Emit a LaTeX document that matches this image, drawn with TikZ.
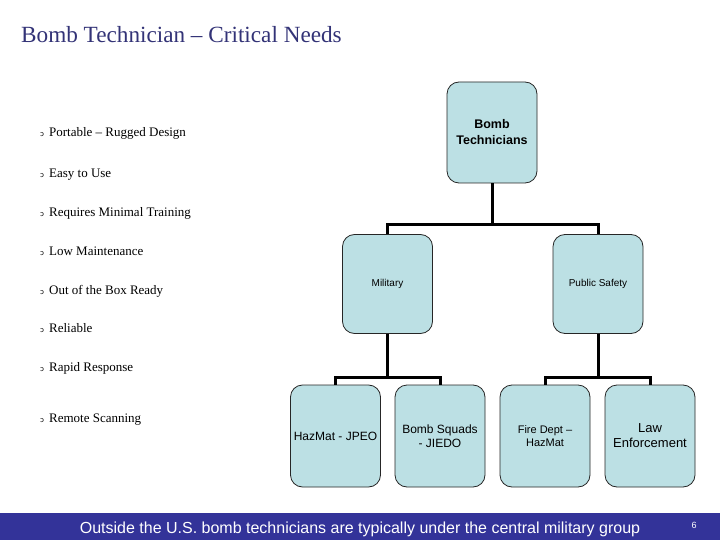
\documentclass[tikz,border=0pt]{standalone}
\usepackage{fontspec}
\setmainfont{Liberation Serif}
\newfontfamily\arialf{Liberation Sans}
\newfontfamily\dejav{DejaVu Sans}
\definecolor{titleblue}{HTML}{333377}
\definecolor{boxfill}{HTML}{BCE0E4}
\definecolor{barblue}{HTML}{333399}
\newcommand{\bul}{{\dejav\scalebox{0.55}{ɔ}}\hspace{5pt}}
\tikzset{
  orgbox/.style={draw=black!85, line width=0.8pt, fill=boxfill, rounded corners=12pt,
    minimum width=90pt, minimum height=101pt, align=center, font=\arialf, inner sep=2pt},
  conn/.style={line width=3pt, black},
  bullettxt/.style={anchor=base west, font=\fontsize{13}{15}\selectfont, inner sep=0pt}
}
\begin{document}
\begin{tikzpicture}[x=1pt,y=-1pt]
\useasboundingbox (0,0) rectangle (720,540);
\fill[white] (0,0) rectangle (720,540);
% title
\node[anchor=base west, text=titleblue, font=\fontsize{23.2}{27}\selectfont, inner sep=0pt] (title) at (21,43) {Bomb Technician – Critical Needs};
% bullets
\node[bullettxt] (b1) at (40,137) {\bul Portable – Rugged Design};
\node[bullettxt] (b2) at (40,178) {\bul Easy to Use};
\node[bullettxt] (b3) at (40,217) {\bul Requires Minimal Training};
\node[bullettxt] (b4) at (40,255) {\bul Low Maintenance};
\node[bullettxt] (b5) at (40,294) {\bul Out of the Box Ready};
\node[bullettxt] (b6) at (40,332) {\bul Reliable};
\node[bullettxt] (b7) at (40,371) {\bul Rapid Response};
\node[bullettxt] (b8) at (40,422) {\bul Remote Scanning};
% org chart
\node[orgbox, font=\arialf\bfseries\fontsize{12.5}{16}\selectfont] (top) at (492,132.5) {Bomb\\Technicians};
\node[orgbox, minimum height=99pt, font=\arialf\fontsize{10}{12}\selectfont] (mil) at (387.5,284) {\raisebox{2pt}{Military}};
\node[orgbox, minimum height=99pt, font=\arialf\fontsize{10}{12}\selectfont] (ps) at (598,284) {Public Safety};
\node[orgbox, minimum height=102pt, font=\arialf\fontsize{12}{14}\selectfont] (c1) at (335.5,436) {HazMat - JPEO};
\node[orgbox, minimum height=102pt, font=\arialf\fontsize{12}{13.5}\selectfont] (c2) at (440,436) {Bomb Squads\\- JIEDO};
\node[orgbox, minimum height=102pt, font=\arialf\fontsize{11}{13.5}\selectfont] (c3) at (545,436) {Fire Dept –\\HazMat};
\node[orgbox, minimum height=102pt, font=\arialf\fontsize{13}{15}\selectfont] (c4) at (650,436) {Law\\Enforcement};
\coordinate (j1) at (492,225);
\coordinate (j2) at (387.5,377);
\coordinate (j3) at (598,377);
\draw[conn] (top.south) -- (j1);
\draw[conn] (mil.north) |- (j1) -| (ps.north);
\draw[conn] (mil.south) -- (j2);
\draw[conn] (c1.north) |- (j2) -| (c2.north);
\draw[conn] (ps.south) -- (j3);
\draw[conn] (c3.north) |- (j3) -| (c4.north);
% footer
\fill[barblue] (0,513) rectangle (720,540);
\node[text=white, font=\arialf\fontsize{16}{18}\selectfont, inner sep=0pt, anchor=base] (foot) at (360,533) {Outside the U.S. bomb technicians are typically under the central military group};
\node[text=white, font=\arialf\fontsize{9}{10}\selectfont, inner sep=0pt] (pg) at (694,525) {6};
\end{tikzpicture}
\end{document}
